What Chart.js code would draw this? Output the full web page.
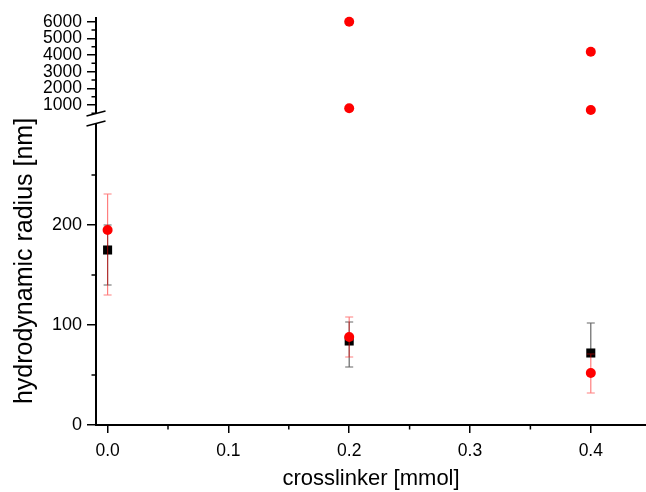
<!DOCTYPE html>
<html>
<head>
<meta charset="utf-8">
<script src="https://cdn.jsdelivr.net/npm/chart.js@4.4.1/dist/chart.umd.min.js"></script>
<style>
  html, body { margin: 0; padding: 0; background: #fff; }
  canvas { display: block; }
</style>
</head>
<body>
<canvas id="myChart" width="646" height="492"></canvas>
<script>
'use strict';

// crosslinker amounts [mmol]
let crosslinker = [0, 0.2, 0.4];

// black squares: radius with error ends
let blackRadius = [175, 84, 72];
let blackLow = [140, 58, 72];
let blackHigh = [200, 103, 102];

// red circles (lower part of the axis)
let redRadius = [195, 88, 52];
let redLow = [130, 68, 32];
let redHigh = [231, 108, 71];

// red circles above the axis break
let redBigX = [0.2, 0.2, 0.4, 0.4];
let redBig = [6000, 800, 4200, 700];

// ticks
let xTicks = [0, 0.1, 0.2, 0.3, 0.4];
let xMinor = [0.05, 0.15, 0.25, 0.35];
let lowTicks = [0, 100, 200];
let lowMinor = [50, 150, 250];
let highTicks = [1000, 2000, 3000, 4000, 5000, 6000];
let highMinor = [500, 1500, 2500, 3500, 4500, 5500];

const FONT = "'Liberation Sans', Arial, sans-serif";

function points(xs, ys) {
    let out = [];
    for (let i = 0; i < xs.length; i++) {
        out.push({ x: xs[i], y: ys[i] });
    }
    return out;
}

// error bars, drawn just before each dataset's markers
const errorBars = {
    id: 'errorBars',
    beforeDatasetDraw(chart, args) {
        let ds = chart.data.datasets[args.index];
        if (!ds.errLow) return;
        let ctx = chart.ctx;
        let xs = chart.scales.x;
        let ys = chart.scales[ds.yAxisID];
        ctx.save();
        ctx.strokeStyle = ds.errColor;
        ctx.lineWidth = 1.2;
        for (let i = 0; i < ds.data.length; i++) {
            let px = xs.getPixelForValue(ds.data[i].x);
            let lo = ys.getPixelForValue(ds.errLow[i]);
            let hi = ys.getPixelForValue(ds.errHigh[i]);
            let mid = ys.getPixelForValue(ds.data[i].y);
            ctx.beginPath();
            ctx.moveTo(px, lo);
            ctx.lineTo(px, hi);
            ctx.moveTo(px - 4, hi);
            ctx.lineTo(px + 4, hi);
            if (Math.abs(lo - mid) > 1) {
                ctx.moveTo(px - 4, lo);
                ctx.lineTo(px + 4, lo);
            }
            ctx.stroke();
        }
        ctx.restore();
    }
};

// minor ticks, axis break and the y title
const axisExtras = {
    id: 'axisExtras',
    afterDraw(chart) {
        let ctx = chart.ctx;
        let xs = chart.scales.x;
        let y = chart.scales.y;
        let y2 = chart.scales.y2;
        let ax = chart.chartArea.left;
        let bottom = chart.chartArea.bottom;
        ctx.save();
        ctx.strokeStyle = '#000';
        ctx.lineWidth = 1.5;
        ctx.beginPath();
        xMinor.forEach(v => {
            let p = xs.getPixelForValue(v);
            ctx.moveTo(p, bottom);
            ctx.lineTo(p, bottom + 4.5);
        });
        lowMinor.forEach(v => {
            let p = y.getPixelForValue(v);
            ctx.moveTo(ax, p);
            ctx.lineTo(ax - 4.5, p);
        });
        highMinor.forEach(v => {
            let p = y2.getPixelForValue(v);
            ctx.moveTo(ax, p);
            ctx.lineTo(ax - 4.5, p);
        });
        ctx.stroke();

        // break in the y axis
        let t = y.top;
        ctx.fillStyle = '#fff';
        ctx.fillRect(ax - 3, t - 11, 6, 9);
        ctx.beginPath();
        ctx.moveTo(ax - 9.5, t - 9);
        ctx.lineTo(ax + 9.5, t - 14);
        ctx.moveTo(ax - 9.5, t + 1);
        ctx.lineTo(ax + 9.5, t - 4);
        ctx.stroke();

        // y title
        ctx.translate(25, 261);
        ctx.rotate(-Math.PI / 2);
        ctx.fillStyle = '#000';
        ctx.font = '25px ' + FONT;
        ctx.textAlign = 'center';
        ctx.textBaseline = 'middle';
        ctx.fillText('hydrodynamic radius [nm]', 0, 0);
        ctx.restore();
    }
};

const data = {
    datasets: [
        {
            label: 'red',
            data: points(crosslinker, redRadius),
            yAxisID: 'y',
            errLow: redLow,
            errHigh: redHigh,
            errColor: 'rgba(255,0,0,0.5)',
            pointStyle: 'circle',
            pointRadius: 5,
            backgroundColor: '#ff0000',
            borderColor: '#ff0000',
            borderWidth: 0,
            order: 0,
            clip: false
        },
        {
            label: 'red big',
            data: points(redBigX, redBig),
            yAxisID: 'y2',
            pointStyle: 'circle',
            pointRadius: 5,
            backgroundColor: '#ff0000',
            borderColor: '#ff0000',
            borderWidth: 0,
            order: 0,
            clip: false
        },
        {
            label: 'black',
            data: points(crosslinker, blackRadius),
            yAxisID: 'y',
            errLow: blackLow,
            errHigh: blackHigh,
            errColor: 'rgba(0,0,0,0.6)',
            pointStyle: 'rect',
            pointRadius: 6.4,
            backgroundColor: '#000',
            borderColor: '#000',
            borderWidth: 0,
            order: 1,
            clip: false
        }
    ]
};

function yAxis(min, max, weight, major, size) {
    return {
        type: 'linear',
        position: 'left',
        stack: 'radius',
        stackWeight: weight,
        min: min,
        max: max,
        border: { display: true, color: '#000', width: 2 },
        grid: { display: true, drawOnChartArea: false, drawTicks: true, tickLength: 9, color: '#000', lineWidth: 1.5 },
        afterBuildTicks: scale => { scale.ticks = major.map(v => ({ value: v })); },
        afterFit: scale => { scale.width = 96; },
        ticks: {
            autoSkip: false,
            padding: 5,
            color: '#000',
            font: { family: FONT, size: size },
            callback: v => String(v)
        }
    };
}

const config = {
    type: 'scatter',
    data: data,
    options: {
        responsive: false,
        animation: false,
        layout: { autoPadding: false, padding: { top: 18, right: 0, bottom: 0, left: 0 } },
        plugins: { legend: { display: false }, tooltip: { enabled: false } },
        scales: {
            x: {
                type: 'linear',
                position: 'bottom',
                min: -0.0096,
                max: 0.4457,
                border: { display: true, color: '#000', width: 2 },
                grid: { display: true, drawOnChartArea: false, drawTicks: true, tickLength: 8, color: '#000', lineWidth: 1.5 },
                afterBuildTicks: scale => { scale.ticks = xTicks.map(v => ({ value: v })); },
                afterFit: scale => {
                    scale.height = 67;
                    scale.paddingLeft = 0;
                    scale.paddingRight = 0;
                },
                ticks: {
                    autoSkip: false,
                    maxRotation: 0,
                    padding: 8,
                    color: '#000',
                    font: { family: FONT, size: 17.5 },
                    callback: v => v.toFixed(1)
                },
                title: {
                    display: true,
                    text: 'crosslinker [mmol]',
                    color: '#000',
                    font: { family: FONT, size: 22 },
                    padding: { top: 0, bottom: 0 }
                }
            },
            y: yAxis(0, 300, 300, lowTicks, 18),
            y2: yAxis(-200, 6222, 107, highTicks, 17.5)
        }
    },
    plugins: [errorBars, axisExtras]
};

var myChart = new Chart(document.getElementById('myChart'), config);
</script>
</body>
</html>
